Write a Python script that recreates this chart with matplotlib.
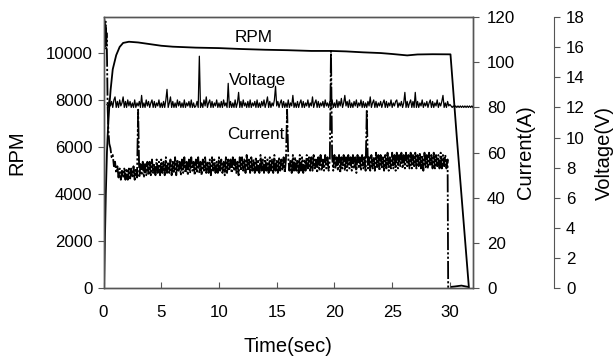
import numpy as np
import matplotlib
matplotlib.use("Agg")
import matplotlib.pyplot as plt

plt.rcParams['font.family'] = ['Liberation Sans', 'DejaVu Sans']

# RPM (smooth trace)
rpm_t = [0.0, 0.05, 0.12, 0.2, 0.3, 0.4, 0.5, 0.62, 0.8, 1.1, 1.4, 1.7, 2.2, 3.0, 4.0,
         5.0, 6.0, 8.0, 10.0, 12.0, 14.0, 16.0, 18.0, 19.7, 21.0, 22.5, 24.0, 25.0,
         26.3, 27.2, 28.5, 30.05, 30.6, 31.65]
rpm = [0, 0, 2000, 4000, 5800, 6900, 7700, 8450, 9300, 9900, 10250, 10420, 10470,
       10440, 10370, 10300, 10260, 10220, 10200, 10160, 10130, 10110, 10080, 10080,
       10060, 10020, 9990, 9950, 9890, 9930, 9940, 9935, 6400, 0]

# Current (A): start-up inrush, then 0.1 s samples from 0.6 s to 29.8 s, then shut-off
cur_start_t = [0.0, 0.02, 0.04, 0.06, 0.08, 0.1, 0.12, 0.14, 0.16, 0.18, 0.2, 0.22,
               0.24, 0.26, 0.28, 0.31, 0.36, 0.42, 0.5]
cur_start = [0, 118, 108, 119, 110, 117, 107, 116, 109, 118, 108, 115, 106, 113, 109,
             100, 80, 70, 64]
cur_rows = [
    [62, 58, 59, 54],
    [56, 51, 54, 49, 53, 48, 52, 49, 53, 48],
    [53, 48, 53, 48, 53, 49, 54, 48, 53, 49],
    [79, 49, 55, 50, 56, 49, 55, 50, 56, 50],
    [56, 50, 57, 51, 55, 50, 57, 51, 56, 50],
    [57, 51, 56, 50, 58, 51, 56, 51, 57, 50],
    [56, 51, 58, 50, 57, 52, 56, 50, 57, 51],
    [58, 51, 56, 50, 57, 51, 58, 52, 56, 50],
    [57, 51, 58, 51, 56, 50, 57, 52, 58, 51],
    [56, 51, 57, 50, 58, 52, 57, 51, 56, 51],
    [58, 52, 57, 51, 56, 50, 58, 51, 57, 52],
    [57, 51, 58, 52, 57, 51, 56, 50, 58, 52],
    [58, 52, 57, 51, 59, 52, 57, 51, 58, 52],
    [57, 51, 58, 52, 57, 51, 59, 52, 57, 51],
    [58, 52, 57, 51, 58, 52, 57, 51, 59, 52],
    [57, 51, 58, 52, 57, 52, 58, 51, 57, 79],
    [58, 52, 57, 51, 59, 52, 58, 52, 57, 51],
    [59, 52, 58, 51, 57, 52, 59, 53, 58, 52],
    [58, 52, 59, 53, 57, 51, 58, 52, 59, 52],
    [57, 52, 59, 53, 58, 52, 57, 105, 58, 52],
    [59, 53, 58, 52, 59, 51, 58, 53, 59, 52],
    [58, 52, 59, 53, 58, 52, 59, 53, 58, 51],
    [59, 53, 58, 52, 59, 53, 58, 52, 79, 53],
    [58, 52, 59, 53, 58, 52, 60, 53, 59, 52],
    [59, 53, 58, 52, 59, 53, 60, 52, 58, 53],
    [60, 53, 59, 52, 60, 53, 59, 54, 60, 53],
    [59, 53, 60, 54, 59, 53, 60, 53, 59, 54],
    [60, 53, 59, 54, 60, 53, 59, 52, 60, 53],
    [59, 53, 60, 54, 59, 53, 60, 53, 59, 54],
    [59, 53, 60, 53, 59, 54, 59, 53, 57],
]
cur_end_t = [29.85, 30.4, 31.0, 31.6]
cur_end = [0.5, 0.8, 1.2, 0.6]

# Voltage (tenths of V), 0.1 s samples from 0.3 s to 32.0 s
volt_rows = [
    [122, 120, 125, 121, 124, 120, 125],
    [127, 120, 124, 120, 125, 121, 123, 127, 120, 124],
    [120, 125, 121, 124, 120, 123, 120, 125, 120, 123],
    [121, 124, 120, 128, 120, 123, 120, 125, 121, 124],
    [120, 123, 125, 120, 124, 120, 123, 121, 125, 120],
    [123, 120, 124, 120, 125, 132, 120, 123, 127, 120],
    [124, 120, 123, 120, 125, 121, 124, 120, 123, 120],
    [125, 120, 123, 121, 124, 120, 125, 120, 123, 120],
    [121, 124, 120, 154, 120, 123, 120, 125, 121, 127],
    [120, 123, 125, 120, 124, 120, 123, 121, 125, 120],
    [123, 120, 124, 120, 125, 121, 123, 120, 136, 120],
    [124, 120, 123, 120, 125, 120, 123, 130, 120, 124],
    [120, 125, 121, 123, 120, 124, 120, 125, 120, 123],
    [121, 124, 120, 125, 120, 123, 120, 124, 121, 125],
    [120, 123, 127, 120, 124, 120, 123, 121, 125, 134],
    [121, 124, 120, 123, 125, 120, 124, 120, 123, 120],
    [125, 120, 123, 121, 128, 120, 123, 120, 124, 120],
    [123, 125, 120, 124, 120, 123, 121, 125, 120, 123],
    [121, 127, 120, 123, 125, 120, 124, 120, 123, 121],
    [124, 120, 125, 121, 123, 120, 124, 120, 125, 120],
    [123, 120, 125, 120, 124, 121, 126, 120, 123, 128],
    [121, 124, 120, 125, 120, 123, 120, 124, 121, 125],
    [120, 123, 121, 125, 120, 124, 120, 123, 120, 124],
    [121, 127, 120, 123, 125, 120, 124, 120, 123, 121],
    [124, 120, 123, 125, 120, 124, 120, 123, 121, 125],
    [120, 123, 121, 124, 125, 120, 123, 121, 124, 120],
    [123, 130, 120, 124, 120, 123, 125, 120, 124, 120],
    [130, 120, 124, 120, 123, 121, 125, 120, 123, 121],
    [124, 120, 123, 125, 120, 124, 120, 123, 121, 125],
    [120, 123, 121, 124, 128, 120, 123, 120, 124, 121],
    [122, 121, 120, 121, 120, 121, 120, 121, 120, 121],
    [120, 121, 120, 121, 120, 121, 120, 121, 120, 121],
    [120],
]

x_ticks = [0, 5, 10, 15, 20, 25, 30]
rpm_ticks = [0, 2000, 4000, 6000, 8000, 10000]
cur_ticks = [0, 20, 40, 60, 80, 100, 120]
volt_ticks = [0, 2, 4, 6, 8, 10, 12, 14, 16, 18]

cur_mid = np.concatenate([np.array(r, float) for r in cur_rows])
cur_mid_t = 0.6 + 0.1 * np.arange(len(cur_mid))
cur_t = np.concatenate([cur_start_t, cur_mid_t, cur_end_t])
cur = np.concatenate([cur_start, cur_mid, cur_end])

volt = np.concatenate([np.array(r, float) for r in volt_rows]) / 10.0
volt_t = 0.3 + 0.1 * np.arange(len(volt))

spine_c = '#555555'
fig = plt.figure(figsize=(6.15, 3.59), dpi=100)
ax = fig.add_axes([0.1683, 0.1969, 0.6008, 0.7557])
ax_cur = ax.twinx()
ax_volt = ax.twinx()

ax.plot(rpm_t, rpm, color='black', lw=1.3)
ax_cur.plot(cur_t, cur, color='black', lw=1.3,
            linestyle=(0, (10, 1.2, 1.2, 1.2, 1.2, 1.2)))
ax_volt.plot(volt_t, volt, color='black', lw=0.9)

ax.set_xlim(0, 32)
ax.set_ylim(0, 11520)
ax_cur.set_ylim(0, 120)
ax_volt.set_ylim(0, 18)

ax.set_xticks(x_ticks)
ax.set_yticks(rpm_ticks)
ax_cur.set_yticks(cur_ticks)
ax_volt.set_yticks(volt_ticks)

ax.tick_params(axis='x', direction='in', length=4, pad=12, labelsize=12.2, color=spine_c)
ax.tick_params(axis='y', direction='out', length=4, pad=4, labelsize=12.2, color=spine_c)
ax_cur.tick_params(axis='y', direction='out', length=4, pad=6, labelsize=12.2, color=spine_c)
ax_volt.tick_params(axis='y', direction='out', length=4, pad=5, labelsize=12.2, color=spine_c)

for a in (ax, ax_cur):
    for s in a.spines.values():
        s.set_color(spine_c)
        s.set_linewidth(1.0)
ax_volt.spines['right'].set_position(('axes', 1.2180))
for name in ('left', 'top', 'bottom'):
    ax_volt.spines[name].set_visible(False)
ax_volt.spines['right'].set_color(spine_c)

ax.text(13.0, 10460, 'RPM', ha='center', va='baseline', fontsize=12.3)
ax.text(13.3, 8630, 'Voltage', ha='center', va='baseline', fontsize=12.3)
ax.text(13.2, 6340, 'Current', ha='center', va='baseline', fontsize=12.3)

yc = 1 - 152.5 / 359
fig.text(16.7 / 615, yc, 'RPM', rotation=90, ha='center', va='center', fontsize=14.5)
fig.text(526 / 615, yc, 'Current(A)', rotation=90, ha='center', va='center', fontsize=14.5)
fig.text(604.5 / 615, yc, 'Voltage(V)', rotation=90, ha='center', va='center', fontsize=14.5)
fig.text(288 / 615, 1 - 346 / 359, 'Time(sec)', ha='center', va='center', fontsize=14.5)

fig.savefig('out.png', dpi=100)
